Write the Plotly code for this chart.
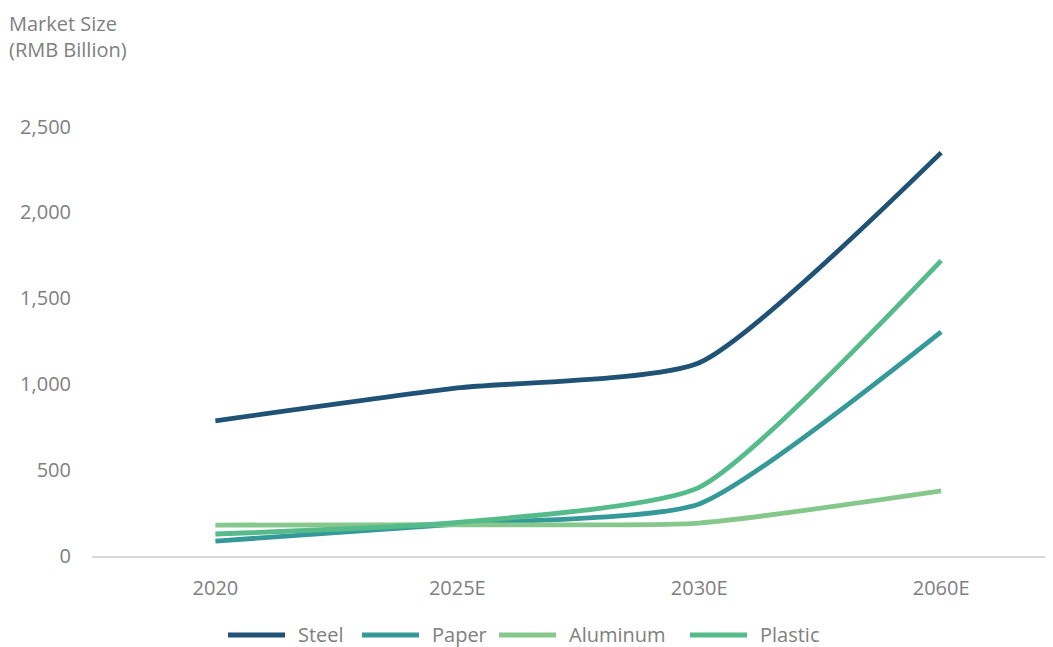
import plotly.graph_objects as go

categories = ["2020", "2025E", "2030E", "2060E"]
steel = [787, 978, 1125, 2348]
paper = [87, 185, 303, 1305]
aluminum = [180, 182, 192, 379]
plastic = [128, 195, 400, 1719]

names = ["Steel", "Paper", "Aluminum", "Plastic"]
values = [steel, paper, aluminum, plastic]
colors = ["#1f5274", "#35999a", "#86c88c", "#55bb8b"]

# The page body has an 8px margin, so the figure is drawn offset by 8px.
OFF = 8
W, H = 1053 - OFF, 647 - OFF
# screen-pixel geometry of the plot area
SX0, SX1, SY0, SY1 = 92, 1050, 75, 556
L, R = SX0 - OFF, W - (SX1 - OFF)
T, B = SY0 - OFF, H - (SY1 - OFF)
PW, PH = W - L - R, H - T - B

def px_x(p):  # screen px -> paper x
    return (p - SX0) / PW

def px_y(p):  # screen px -> paper y
    return (SY1 - p) / PH

fig = go.Figure()
for name, vals, color in zip(names, values, colors):
    fig.add_trace(go.Scatter(
        x=categories, y=vals, name=name, mode="lines", showlegend=False,
        line=dict(color=color, width=4.8, shape="spline", smoothing=0.55),
    ))

grey = "#808080"
font_family = "Open Sans, sans-serif"

# custom legend (sample line + label), positions in screen pixels
legend_starts = [228, 362, 499, 690]
sample_len = 57
legend_y = 634
shapes = []
annotations = []
for name, color, x0 in zip(names, colors, legend_starts):
    shapes.append(dict(type="line", xref="paper", yref="paper",
                       x0=px_x(x0), x1=px_x(x0 + sample_len),
                       y0=px_y(legend_y + 1), y1=px_y(legend_y + 1),
                       line=dict(color=color, width=5)))
    annotations.append(dict(text=name, xref="paper", yref="paper",
                            x=px_x(x0 + sample_len + 11), y=px_y(legend_y),
                            xanchor="left", yanchor="middle", showarrow=False,
                            font=dict(family=font_family, size=20, color=grey)))

annotations.append(dict(text="Market Size<br>(RMB Billion)", xref="paper", yref="paper",
                        x=px_x(7), y=px_y(8), xanchor="left", yanchor="top",
                        showarrow=False, align="left",
                        font=dict(family=font_family, size=20, color=grey)))

fig.update_layout(
    width=W, height=H,
    margin=dict(l=L, r=R, t=T, b=B, autoexpand=False),
    plot_bgcolor="white", paper_bgcolor="white",
    font=dict(family=font_family, size=20, color=grey),
    showlegend=False,
    xaxis=dict(type="category", range=[-0.51, 3.45], showgrid=False,
               showline=True, linecolor="#d9d9d9", linewidth=1.5,
               ticks="", ticklabelstandoff=13, automargin=False,
               tickfont=dict(size=20, color=grey)),
    yaxis=dict(range=[0, 2800], showgrid=False, zeroline=False,
               showline=False, tickvals=[0, 500, 1000, 1500, 2000, 2500],
               tickformat=",", ticks="", ticklabelstandoff=20, automargin=False,
               tickfont=dict(size=20, color=grey)),
    shapes=shapes,
    annotations=annotations,
)
fig.write_html("out.html")
